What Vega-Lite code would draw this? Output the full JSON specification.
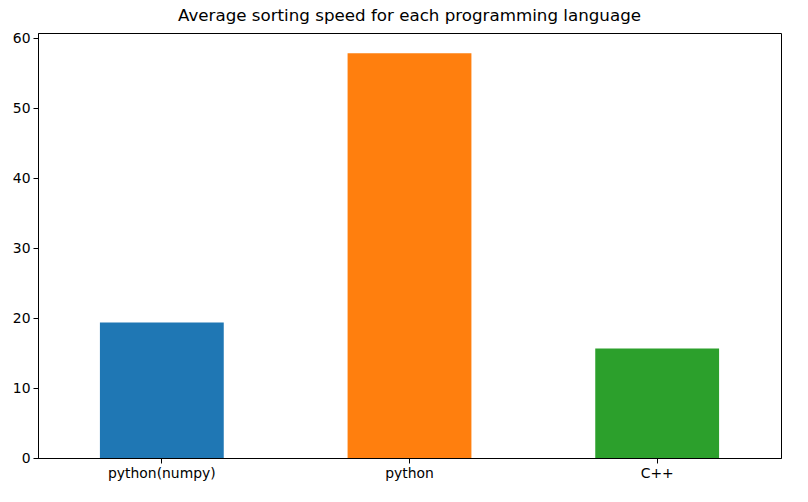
{
  "$schema": "https://vega.github.io/schema/vega-lite/v6.json",
  "width": 743,
  "height": 425,
  "autosize": {"type": "none"},
  "padding": {"left": 38, "top": 33, "right": 27, "bottom": 44},
  "background": "white",
  "title": {"text": "Average sorting speed for each programming language", "font": "DejaVu Sans", "fontSize": 16.7, "fontWeight": "normal", "color": "black", "offset": 6},
  "config": {
    "view": {"stroke": "black", "strokeWidth": 1},
    "axis": {"labelFont": "DejaVu Sans", "labelFontSize": 13.9, "labelColor": "black", "tickColor": "black", "domainColor": "black", "grid": false, "tickSize": 5, "labelPadding": 3, "title": null}
  },
  "data": {"values": [
    {"language": "python(numpy)", "speed": 19.38},
    {"language": "python", "speed": 57.85},
    {"language": "C++", "speed": 15.65}
  ]},
  "mark": {"type": "bar"},
  "encoding": {
    "x": {"field": "language", "type": "nominal", "sort": null, "scale": {"paddingInner": 0.5, "paddingOuter": 0.25}, "axis": {"labelAngle": 0, "title": null}},
    "y": {"field": "speed", "type": "quantitative", "scale": {"domain": [0, 60.74], "nice": false}, "axis": {"values": [0, 10, 20, 30, 40, 50, 60], "title": null}},
    "color": {"field": "language", "type": "nominal", "sort": null, "scale": {"range": ["#1f77b4", "#ff7f0e", "#2ca02c"]}, "legend": null}
  }
}
